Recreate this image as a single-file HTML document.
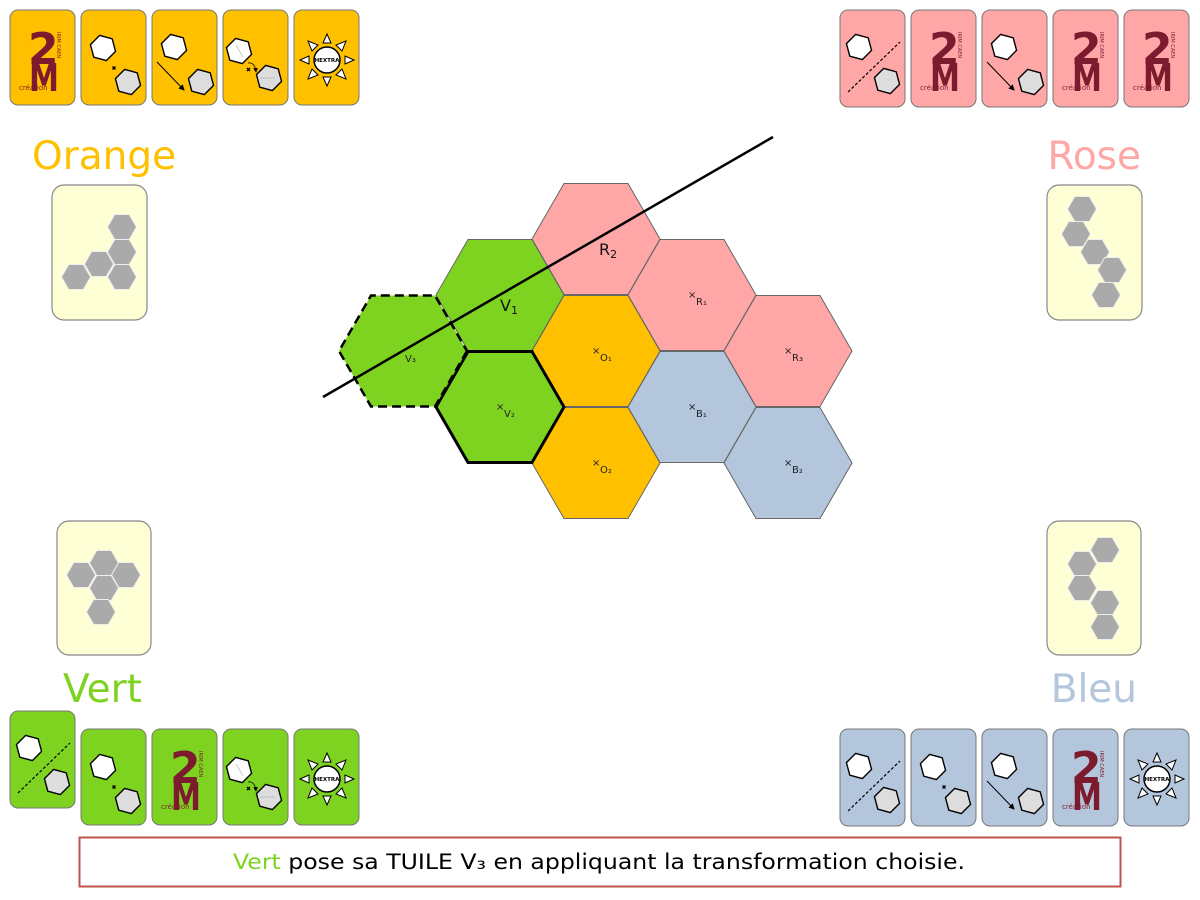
<!DOCTYPE html>
<html><head><meta charset="utf-8"><style>
html,body{margin:0;padding:0;background:#fff}
svg{display:block}
text{font-family:"DejaVu Sans","Liberation Sans",sans-serif}
</style></head><body>
<svg width="1200" height="900" viewBox="0 0 1200 900" xmlns="http://www.w3.org/2000/svg">
<defs>
<polygon id="sh" points="13,0 6.5,11.3 -6.5,11.3 -13,0 -6.5,-11.3 6.5,-11.3" transform="rotate(15)"/>
<polygon id="th" points="14.5,0 7.25,12.5 -7.25,12.5 -14.5,0 -7.25,-12.5 7.25,-12.5"/>
<polygon id="bh" points="64,0 32,55.5 -32,55.5 -64,0 -32,-55.5 32,-55.5"/>
<marker id="ar" markerWidth="6" markerHeight="6" refX="5" refY="3" orient="auto"><path d="M0,0 L6,3 L0,6z" fill="#000"/></marker>
<g id="axial">
<use href="#sh" x="19" y="37" fill="#fff" stroke="#000" stroke-width="1.4"/>
<use href="#sh" x="47" y="71" fill="#ddd" stroke="#000" stroke-width="1.4"/>
<line x1="8" y1="82" x2="60" y2="32" stroke="#000" stroke-width="1.2" stroke-dasharray="3,2"/>
</g>
<g id="sym">
<use href="#sh" x="22" y="38" fill="#fff" stroke="#000" stroke-width="1.4"/>
<use href="#sh" x="47" y="72" fill="#ddd" stroke="#000" stroke-width="1.4"/>
<path d="M31.5,56.5 l3,3 M34.5,56.5 l-3,3" stroke="#000" stroke-width="1.3"/>
</g>
<g id="trans">
<use href="#sh" x="22" y="37" fill="#fff" stroke="#000" stroke-width="1.4"/>
<use href="#sh" x="49" y="72" fill="#ddd" stroke="#000" stroke-width="1.4"/>
<line x1="5" y1="52" x2="32" y2="80" stroke="#000" stroke-width="1" marker-end="url(#ar)"/>
</g>
<g id="rot">
<use href="#sh" x="16" y="41" fill="#fff" stroke="#000" stroke-width="1.4"/>
<use href="#sh" x="46" y="68" fill="#ddd" stroke="#000" stroke-width="1.4"/>
<line x1="13" y1="35" x2="20" y2="47" stroke="#aaa" stroke-width=".6"/>
<line x1="37" y1="68" x2="52" y2="68" stroke="#aaa" stroke-width=".6"/>
<path d="M24,58 l3,3 M27,58 l-3,3" stroke="#000" stroke-width="1.3"/>
<path d="M25,53 Q32,52 33,62" fill="none" stroke="#000" stroke-width=".8" marker-end="url(#ar)"/>
</g>
<g id="sun">
<g fill="#fff" stroke="#000" stroke-width="1">
<polygon points="33,24 29,33 37,33"/><polygon points="33,76 29,67 37,67"/>
<polygon points="6,50 15,46 15,54"/><polygon points="60,50 51,46 51,54"/>
<polygon points="14,31 24,35 18,41"/><polygon points="52,31 42,35 48,41"/>
<polygon points="14,69 24,65 18,59"/><polygon points="52,69 42,65 48,59"/>
</g>
<circle cx="33" cy="50" r="13" fill="#fff" stroke="#000" stroke-width="1.5"/>
</g>
<g id="logo">
<text x="18" y="54" font-family="Liberation Serif,serif" font-size="44" font-weight="bold" fill="#7d1b2e">2</text>
<text x="19" y="81" font-family="Liberation Serif,serif" font-size="38" font-weight="bold" fill="#7d1b2e" textLength="30" lengthAdjust="spacingAndGlyphs">M</text>
<text x="9" y="80" font-family="Liberation Serif,serif" font-size="7" fill="#7d1b2e">création</text>
<text transform="translate(47,22) rotate(90)" font-size="5" fill="#7d1b2e">IRIM CAEN</text>
</g>
</defs>

<g stroke="#777" stroke-width="1" fill="#ffc000">
<rect x="10" y="10" width="65" height="95" rx="8"/>
<rect x="81" y="10" width="65" height="95" rx="8"/>
<rect x="152" y="10" width="65" height="95" rx="8"/>
<rect x="223" y="10" width="65" height="95" rx="8"/>
<rect x="294" y="10" width="65" height="95" rx="8"/>
</g>
<use href="#logo" x="10" y="10"/>
<use href="#sym" x="81" y="10"/>
<use href="#trans" x="152" y="10"/>
<use href="#rot" x="223" y="10"/>
<use href="#sun" x="294" y="10"/>
<text x="327" y="62" font-size="5.5" font-weight="bold" text-anchor="middle">HEXTRA</text>

<g stroke="#777" stroke-width="1" fill="#ffa7a7">
<rect x="840" y="10" width="65" height="97" rx="8"/>
<rect x="911" y="10" width="65" height="97" rx="8"/>
<rect x="982" y="10" width="65" height="97" rx="8"/>
<rect x="1053" y="10" width="65" height="97" rx="8"/>
<rect x="1124" y="10" width="65" height="97" rx="8"/>
</g>
<use href="#axial" x="840" y="10"/>
<use href="#logo" x="911" y="10"/>
<use href="#trans" x="982" y="10"/>
<use href="#logo" x="1053" y="10"/>
<use href="#logo" x="1124" y="10"/>

<g stroke="#777" stroke-width="1" fill="#7ed321">
<rect x="10" y="711" width="65" height="97" rx="8"/>
<rect x="81" y="729" width="65" height="96" rx="8"/>
<rect x="152" y="729" width="65" height="96" rx="8"/>
<rect x="223" y="729" width="65" height="96" rx="8"/>
<rect x="294" y="729" width="65" height="96" rx="8"/>
</g>
<use href="#axial" x="10" y="711"/>
<use href="#sym" x="81" y="729"/>
<use href="#logo" x="152" y="729"/>
<use href="#rot" x="223" y="729"/>
<use href="#sun" x="294" y="729"/>
<text x="327" y="781" font-size="5.5" font-weight="bold" text-anchor="middle">HEXTRA</text>

<g stroke="#777" stroke-width="1" fill="#b3c6dc">
<rect x="840" y="729" width="65" height="97" rx="8"/>
<rect x="911" y="729" width="65" height="97" rx="8"/>
<rect x="982" y="729" width="65" height="97" rx="8"/>
<rect x="1053" y="729" width="65" height="97" rx="8"/>
<rect x="1124" y="729" width="65" height="97" rx="8"/>
</g>
<use href="#axial" x="840" y="729"/>
<use href="#sym" x="911" y="729"/>
<use href="#trans" x="982" y="729"/>
<use href="#logo" x="1053" y="729"/>
<use href="#sun" x="1124" y="729"/>
<text x="1157" y="781" font-size="5.5" font-weight="bold" text-anchor="middle">HEXTRA</text>

<text x="32" y="169" font-size="39" fill="#ffc000">Orange</text>
<text x="1141" y="169" font-size="39" fill="#ffa7a7" text-anchor="end">Rose</text>
<text x="63" y="702" font-size="39" fill="#7ed321">Vert</text>
<text x="1137" y="702" font-size="39" fill="#b3c6dc" text-anchor="end">Bleu</text>

<g fill="#ffffd5" stroke="#888" stroke-width="1.2">
<rect x="52" y="185" width="95" height="135" rx="12"/>
<rect x="1047" y="185" width="95" height="135" rx="12"/>
<rect x="57" y="521" width="94" height="134" rx="12"/>
<rect x="1047" y="521" width="94" height="134" rx="12"/>
</g>
<g fill="#aaa" stroke="#eee" stroke-width="1">
<use href="#th" x="122" y="227"/><use href="#th" x="122" y="252"/><use href="#th" x="99" y="264"/><use href="#th" x="122" y="277"/><use href="#th" x="76" y="277"/>
<use href="#th" x="1082" y="209"/><use href="#th" x="1076" y="234"/><use href="#th" x="1095" y="252"/><use href="#th" x="1112" y="270"/><use href="#th" x="1106" y="295"/>
<use href="#th" x="81" y="575"/><use href="#th" x="104" y="563"/><use href="#th" x="126" y="575"/><use href="#th" x="104" y="588"/><use href="#th" x="101" y="612"/>
<use href="#th" x="1105" y="550"/><use href="#th" x="1082" y="564"/><use href="#th" x="1082" y="588"/><use href="#th" x="1105" y="603"/><use href="#th" x="1105" y="627"/>
</g>

<g stroke="#666" stroke-width="1">
<use href="#bh" x="596" y="239" fill="#ffa7a7"/>
<use href="#bh" x="500" y="295" fill="#7ed321"/>
<use href="#bh" x="692" y="295" fill="#ffa7a7"/>
<use href="#bh" x="596" y="351" fill="#ffc000"/>
<use href="#bh" x="788" y="351" fill="#ffa7a7"/>
<use href="#bh" x="692" y="407" fill="#b3c6dc"/>
<use href="#bh" x="596" y="463" fill="#ffc000"/>
<use href="#bh" x="788" y="463" fill="#b3c6dc"/>
</g>
<use href="#bh" x="500" y="407" fill="#7ed321" stroke="#000" stroke-width="3"/>
<use href="#bh" x="403" y="351" fill="#7ed321" stroke="#000" stroke-width="2.5" stroke-dasharray="9,5"/>
<line x1="323" y1="397" x2="773" y2="137" stroke="#000" stroke-width="2.5"/>

<g font-size="10" fill="#222">
<text x="592" y="354">×</text><text x="600" y="361">O₁</text>
<text x="592" y="466">×</text><text x="600" y="473">O₂</text>
<text x="688" y="298">×</text><text x="696" y="305">R₁</text>
<text x="784" y="354">×</text><text x="792" y="361">R₃</text>
<text x="688" y="410">×</text><text x="696" y="417">B₁</text>
<text x="784" y="466">×</text><text x="792" y="473">B₂</text>
<text x="496" y="410">×</text><text x="504" y="417">V₂</text>
<text x="405" y="362">V₃</text>
</g>
<text x="500" y="311" font-size="16" fill="#111">V<tspan font-size="11" dy="3">1</tspan></text>
<text x="599" y="255" font-size="16" fill="#111">R<tspan font-size="11" dy="3">2</tspan></text>

<rect x="79.5" y="837.5" width="1041" height="49" fill="#fff" stroke="#c0504d" stroke-width="2"/>
<text x="233" y="869" font-size="21" textLength="732" lengthAdjust="spacingAndGlyphs" fill="#000"><tspan fill="#7ed321">Vert</tspan> pose sa TUILE V₃ en appliquant la transformation choisie.</text>
</svg>
</body></html>
